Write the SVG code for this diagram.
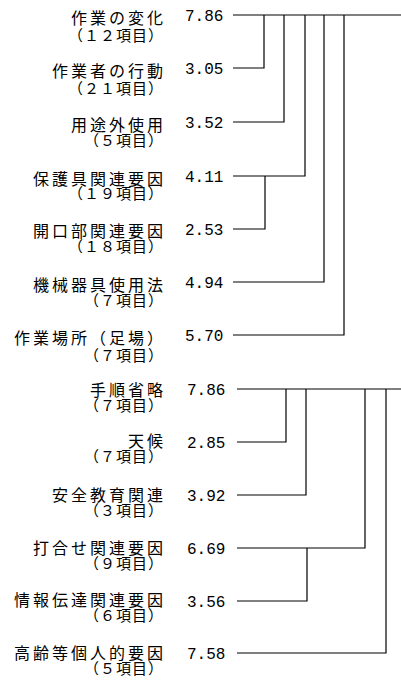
<svg xmlns="http://www.w3.org/2000/svg" width="401" height="684" viewBox="0 0 401 684">
<style>
.l{font-family:"Noto Sans CJK JP","Noto Sans",sans-serif;text-anchor:end;fill:#000}
.m{font-size:16px;letter-spacing:3px}
.s{font-size:15px;letter-spacing:1px}
.n{font-family:"Liberation Mono","DejaVu Sans Mono",monospace;font-size:16px;fill:#000}
.c path{fill:none;stroke:#000;stroke-width:1.2}
</style>
<rect width="401" height="684" fill="#fff"/>
<g id="n1"><text class="l"><tspan class="m" x="166" y="24">作業の変化</tspan><tspan class="s" x="164" y="41">（１２項目）</tspan></text><text class="n" x="185" y="21">7.86</text></g>
<g id="n2"><text class="l"><tspan class="m" x="166" y="77">作業者の行動</tspan><tspan class="s" x="164" y="94">（２１項目）</tspan></text><text class="n" x="185" y="74">3.05</text></g>
<g id="n3"><text class="l"><tspan class="m" x="166" y="131">用途外使用</tspan><tspan class="s" x="164" y="146">（５項目）</tspan></text><text class="n" x="185" y="128">3.52</text></g>
<g id="n4"><text class="l"><tspan class="m" x="166" y="185">保護具関連要因</tspan><tspan class="s" x="164" y="199">（１９項目）</tspan></text><text class="n" x="185" y="182">4.11</text></g>
<g id="n5"><text class="l"><tspan class="m" x="166" y="237">開口部関連要因</tspan><tspan class="s" x="164" y="252">（１８項目）</tspan></text><text class="n" x="185" y="235">2.53</text></g>
<g id="n6"><text class="l"><tspan class="m" x="166" y="291">機械器具使用法</tspan><tspan class="s" x="164" y="306">（７項目）</tspan></text><text class="n" x="185" y="288">4.94</text></g>
<g id="n7"><text class="l"><tspan class="m" x="166" y="344">作業場所（足場）</tspan><tspan class="s" x="164" y="361">（７項目）</tspan></text><text class="n" x="185" y="341">5.70</text></g>
<g id="n8"><text class="l"><tspan class="m" x="166" y="396">手順省略</tspan><tspan class="s" x="164" y="411">（７項目）</tspan></text><text class="n" x="187" y="395">7.86</text></g>
<g id="n9"><text class="l"><tspan class="m" x="166" y="447">天候</tspan><tspan class="s" x="164" y="462">（７項目）</tspan></text><text class="n" x="187" y="448">2.85</text></g>
<g id="n10"><text class="l"><tspan class="m" x="166" y="501">安全教育関連</tspan><tspan class="s" x="164" y="516">（３項目）</tspan></text><text class="n" x="187" y="501">3.92</text></g>
<g id="n11"><text class="l"><tspan class="m" x="166" y="554">打合せ関連要因</tspan><tspan class="s" x="164" y="569">（９項目）</tspan></text><text class="n" x="187" y="554">6.69</text></g>
<g id="n12"><text class="l"><tspan class="m" x="166" y="606">情報伝達関連要因</tspan><tspan class="s" x="164" y="621">（６項目）</tspan></text><text class="n" x="187" y="607">3.56</text></g>
<g id="n13"><text class="l"><tspan class="m" x="166" y="659">高齢等個人的要因</tspan><tspan class="s" x="164" y="674">（５項目）</tspan></text><text class="n" x="187" y="659">7.58</text></g>
<g id="connectors" class="c">
<path d="M233 15H401"/>
<path d="M233 68H264V15"/>
<path d="M233 122H284V15"/>
<path d="M233 176H305V15"/>
<path d="M233 229H265V176"/>
<path d="M233 282H324V15"/>
<path d="M233 335H344V15"/>
<path d="M237 389H401"/>
<path d="M237 442H286V389"/>
<path d="M237 495H306V389"/>
<path d="M237 548H365V389"/>
<path d="M237 601H307V548"/>
<path d="M237 653H386V389"/>
</g>
</svg>
